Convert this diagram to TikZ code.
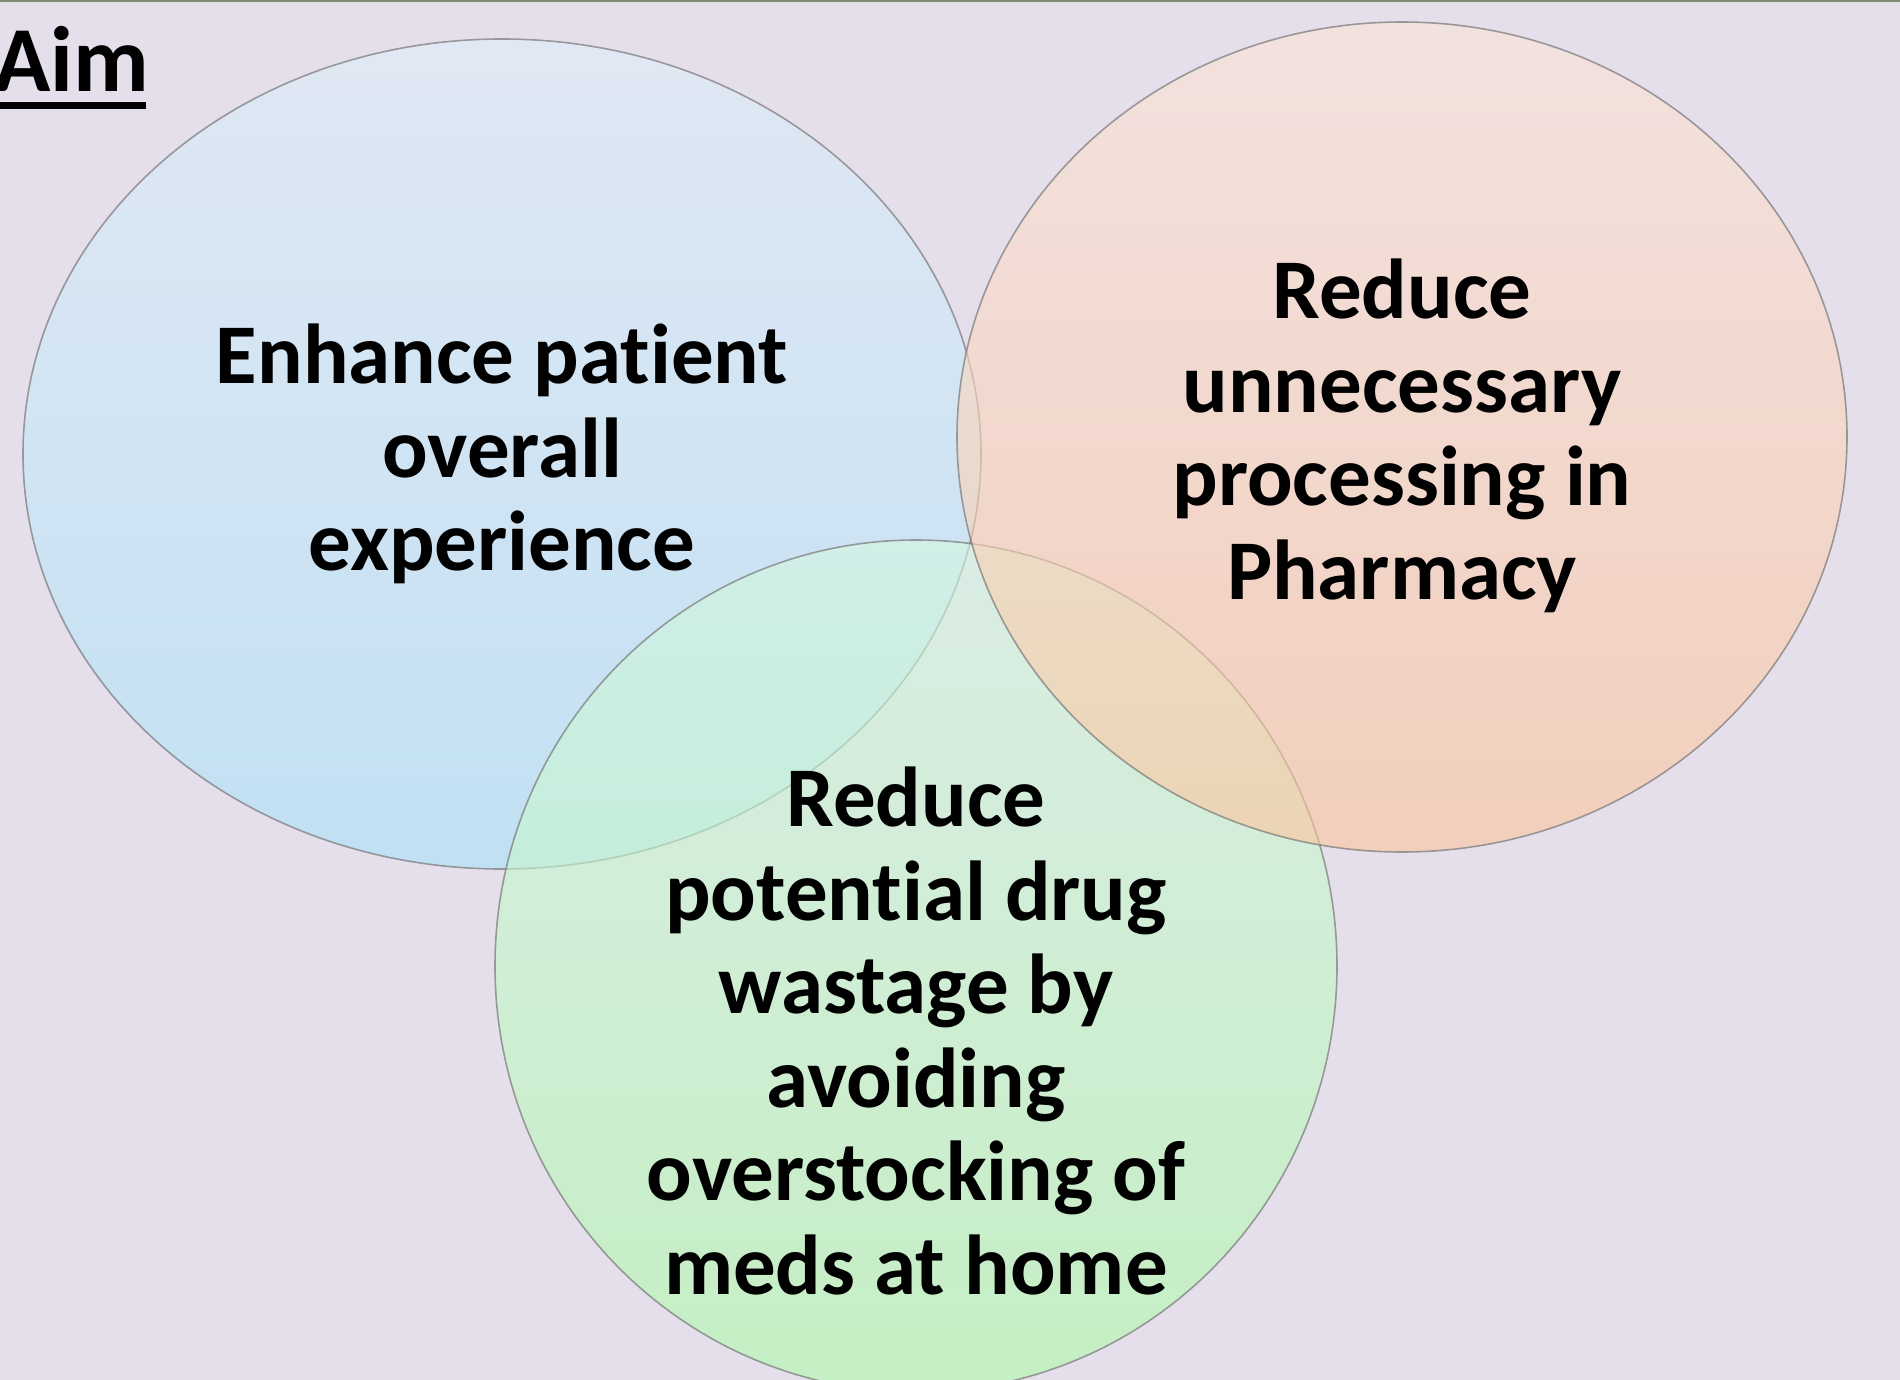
\documentclass[tikz,border=0pt]{standalone}
\usepackage{fontspec}
\setmainfont{Carlito}[Ligatures=NoCommon]
\usetikzlibrary{shapes.geometric}
\definecolor{bgc}{RGB}{229,223,236}
\definecolor{topline}{RGB}{130,138,112}
\definecolor{blueT}{RGB}{221,238,249}
\definecolor{blueB}{RGB}{170,226,248}
\definecolor{greenT}{RGB}{212,246,224}
\definecolor{greenB}{RGB}{176,250,170}
\definecolor{orangeT}{RGB}{251,228,215}
\definecolor{orangeB}{RGB}{251,196,156}
\definecolor{edgec}{RGB}{120,120,120}
\tikzset{
  venn/.style={ellipse, inner sep=0pt, draw=edgec, line width=0.8pt, fill opacity=0.6, draw opacity=0.7},
  lbl/.style={align=center, font=\fontsize{42.5pt}{46.8pt}\selectfont\bfseries, text=black, inner sep=0pt}
}
\begin{document}
\begin{tikzpicture}[x=0.5pt, y=-0.5pt]
\fill[bgc] (0,0) rectangle (1900,1380);
\useasboundingbox (0,0) rectangle (1900,1380);
\draw[topline, line width=1.2pt] (0,1) -- (1900,1);
% circles
\node[venn, minimum width=479pt, minimum height=415pt, top color=blueT, bottom color=blueB] (blue) at (502,454) {};
\node[venn, minimum width=421pt, minimum height=426pt, top color=greenT, bottom color=greenB] (green) at (916,966) {};
\node[venn, minimum width=445pt, minimum height=415pt, top color=orangeT, bottom color=orangeB] (orange) at (1402,437) {};
% texts
\node[lbl] (tblue) at (502,454) {Enhance patient\\overall\\experience};
\node[lbl] (torange) at (1402,436) {Reduce\\unnecessary\\processing in\\Pharmacy};
\node[lbl] (tgreen) at (916,1031) {Reduce\\potential drug\\wastage by\\avoiding\\overstocking of\\meds at home};
% title
\node[anchor=base west, inner sep=0pt, font=\fontsize{46.5pt}{50pt}\selectfont\bfseries] (aim) at (-6,92) {Aim};
\coordinate (ulA) at (-6,106);
\coordinate (ulB) at (146,106);
\draw[line width=3.5pt] (ulA) -- (ulB);
\end{tikzpicture}
\end{document}
